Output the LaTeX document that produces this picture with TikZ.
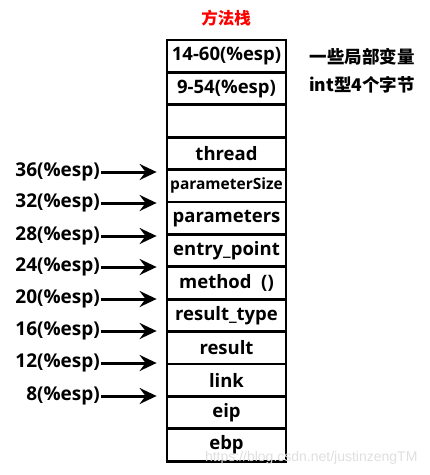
\documentclass[tikz,border=0pt]{standalone}
\usepackage{fontspec}
\usepackage{xcolor}
\usepackage{tikz}
\usetikzlibrary{arrows.meta}
\setmainfont{Open Sans}
\newfontfamily\cjk{Noto Sans CJK SC}
\newfontfamily\wmfont{Liberation Sans}

\begin{document}
\begin{tikzpicture}[x=1pt, y=-1pt,
    cell/.style={draw, line width=2.8pt, minimum width=119pt, minimum height=32.4pt,
        inner sep=0pt, font=\bfseries\fontsize{18.5}{19}\selectfont},
    esp/.style={anchor=east, inner sep=1pt, font=\bfseries\fontsize{19}{20}\selectfont},
    ptr/.style={-{Stealth[length=17pt, width=16pt, inset=6pt]}, line width=3pt, shorten >=9pt}]
    \useasboundingbox (0,0) rectangle (430,475);

    \node[text=red, font=\cjk\bfseries\fontsize{16.5}{17}\selectfont] at (226, 18) (title) {方法栈};

    \node[cell] at (226.5, 56.2) (v1) {14-60(\%esp)};
    \node[cell] at (226.5, 88.6) (v2) {9-54(\%esp)};
    \node[cell] at (226.5, 121.0) (blank) {};
    \node[cell] at (226.5, 153.4) (thread) {thread};
    \node[cell, font=\bfseries\fontsize{15.5}{16}\selectfont] at (226.5, 185.8) (size) {parameterSize};
    \node[cell] at (226.5, 218.2) (params) {parameters};
    \node[cell] at (226.5, 250.6) (entry) {entry\_point};
    \node[cell] at (226.5, 283.0) (method) {method \ ()};
    \node[cell] at (226.5, 315.4) (rtype) {result\_type};
    \node[cell] at (226.5, 347.8) (result) {result};
    \node[cell] at (226.5, 380.2) (link) {link};
    \node[cell] at (226.5, 412.6) (eip) {eip};
    \node[cell] at (226.5, 445.0) (ebp) {ebp};

    \node[font=\cjk\bfseries\fontsize{17.5}{18}\selectfont] at (362, 57) (note1) {一些局部变量};
    \node[font=\cjk\bfseries\fontsize{17.5}{18}\selectfont] at (362, 85) (note2) {int型4个字节};

    \node[esp] at (101, 172) (o36) {36(\%esp)};
    \node[esp] at (101, 203) (o32) {32(\%esp)};
    \node[esp] at (101, 236) (o28) {28(\%esp)};
    \node[esp] at (101, 267) (o24) {24(\%esp)};
    \node[esp] at (101, 299) (o20) {20(\%esp)};
    \node[esp] at (101, 331) (o16) {16(\%esp)};
    \node[esp] at (101, 363) (o12) {12(\%esp)};
    \node[esp] at (101, 396) (o8) {8(\%esp)};

    \draw[ptr] (o36.east) -- (o36.east -| size.west);
    \draw[ptr] (o32.east) -- (o32.east -| params.west);
    \draw[ptr] (o28.east) -- (o28.east -| entry.west);
    \draw[ptr] (o24.east) -- (o24.east -| method.west);
    \draw[ptr] (o20.east) -- (o20.east -| rtype.west);
    \draw[ptr] (o16.east) -- (o16.east -| result.west);
    \draw[ptr] (o12.east) -- (o12.east -| link.west);
    \draw[ptr] (o8.east) -- (o8.east -| eip.west);

    \node[anchor=east, text=gray!25, font=\wmfont\fontsize{14}{15}\selectfont] at (421, 458) (mark) {https://blog.csdn.net/justinzengTM};
\end{tikzpicture}
\end{document}
